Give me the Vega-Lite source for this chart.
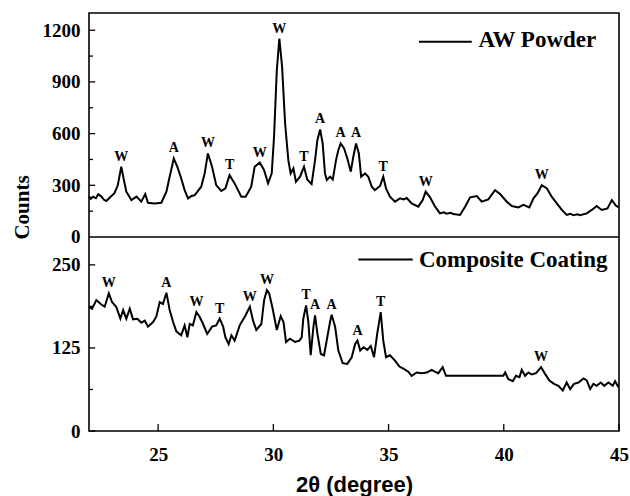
{
  "$schema": "https://vega.github.io/schema/vega-lite/v6.json",
  "autosize": "none",
  "width": 530,
  "height": 418,
  "padding": {"left": 89, "top": 13, "right": 11, "bottom": 65},
  "background": "white",
  "config": {
    "view": {"stroke": "black", "strokeWidth": 1.6},
    "axis": {"grid": false, "domain": false, "ticks": false, "labelColor": "black", "titleColor": "black", "labelFont": "Liberation Serif", "labelFontWeight": "bold", "labelFontSize": 19, "labelFlush": false, "labelOverlap": false, "format": "d"}
  },
  "datasets": {
    "aw": [
      {"angle": 22.0, "counts": 235}, {"angle": 22.08, "counts": 222}, {"angle": 22.17, "counts": 234}, {"angle": 22.3, "counts": 225}, {"angle": 22.4, "counts": 248},
      {"angle": 22.53, "counts": 236}, {"angle": 22.65, "counts": 216}, {"angle": 22.75, "counts": 209}, {"angle": 22.95, "counts": 235}, {"angle": 23.1, "counts": 253},
      {"angle": 23.25, "counts": 300}, {"angle": 23.4, "counts": 408}, {"angle": 23.5, "counts": 340}, {"angle": 23.62, "counts": 263}, {"angle": 23.84, "counts": 214},
      {"angle": 24.06, "counts": 234}, {"angle": 24.27, "counts": 205}, {"angle": 24.44, "counts": 249}, {"angle": 24.56, "counts": 199}, {"angle": 24.85, "counts": 195},
      {"angle": 25.14, "counts": 199}, {"angle": 25.36, "counts": 263}, {"angle": 25.5, "counts": 350}, {"angle": 25.68, "counts": 456}, {"angle": 25.83, "counts": 408},
      {"angle": 25.98, "counts": 350}, {"angle": 26.15, "counts": 272}, {"angle": 26.3, "counts": 224}, {"angle": 26.45, "counts": 238}, {"angle": 26.59, "counts": 243},
      {"angle": 26.87, "counts": 292}, {"angle": 27.02, "counts": 369}, {"angle": 27.16, "counts": 485}, {"angle": 27.34, "counts": 408}, {"angle": 27.52, "counts": 301},
      {"angle": 27.74, "counts": 267}, {"angle": 27.92, "counts": 282}, {"angle": 28.1, "counts": 359}, {"angle": 28.32, "counts": 311}, {"angle": 28.61, "counts": 234},
      {"angle": 28.8, "counts": 234}, {"angle": 29.04, "counts": 292}, {"angle": 29.19, "counts": 408}, {"angle": 29.41, "counts": 432}, {"angle": 29.6, "counts": 388},
      {"angle": 29.77, "counts": 311}, {"angle": 29.93, "counts": 369}, {"angle": 30.03, "counts": 582}, {"angle": 30.15, "counts": 968}, {"angle": 30.26, "counts": 1152},
      {"angle": 30.38, "counts": 987}, {"angle": 30.51, "counts": 659}, {"angle": 30.65, "counts": 446}, {"angle": 30.75, "counts": 369}, {"angle": 30.87, "counts": 398},
      {"angle": 30.98, "counts": 321}, {"angle": 31.16, "counts": 350}, {"angle": 31.33, "counts": 408}, {"angle": 31.47, "counts": 334}, {"angle": 31.66, "counts": 307},
      {"angle": 31.81, "counts": 446}, {"angle": 31.91, "counts": 562}, {"angle": 32.03, "counts": 624}, {"angle": 32.14, "counts": 543}, {"angle": 32.24, "counts": 369},
      {"angle": 32.32, "counts": 330}, {"angle": 32.46, "counts": 350}, {"angle": 32.58, "counts": 334}, {"angle": 32.72, "counts": 446}, {"angle": 32.82, "counts": 504},
      {"angle": 32.92, "counts": 543}, {"angle": 33.07, "counts": 514}, {"angle": 33.21, "counts": 456}, {"angle": 33.36, "counts": 379}, {"angle": 33.47, "counts": 466},
      {"angle": 33.59, "counts": 543}, {"angle": 33.71, "counts": 485}, {"angle": 33.81, "counts": 350}, {"angle": 33.98, "counts": 369}, {"angle": 34.12, "counts": 350},
      {"angle": 34.27, "counts": 292}, {"angle": 34.41, "counts": 272}, {"angle": 34.63, "counts": 296}, {"angle": 34.77, "counts": 350}, {"angle": 34.89, "counts": 282},
      {"angle": 35.06, "counts": 234}, {"angle": 35.28, "counts": 205}, {"angle": 35.5, "counts": 224}, {"angle": 35.65, "counts": 218}, {"angle": 35.79, "counts": 226}, {"angle": 36.0, "counts": 195},
      {"angle": 36.29, "counts": 176}, {"angle": 36.48, "counts": 214}, {"angle": 36.61, "counts": 263}, {"angle": 36.8, "counts": 230}, {"angle": 37.02, "counts": 176},
      {"angle": 37.23, "counts": 137}, {"angle": 37.4, "counts": 143}, {"angle": 37.52, "counts": 135}, {"angle": 37.7, "counts": 140}, {"angle": 37.81, "counts": 133}, {"angle": 38.1, "counts": 128}, {"angle": 38.32, "counts": 176},
      {"angle": 38.54, "counts": 230}, {"angle": 38.83, "counts": 238}, {"angle": 39.04, "counts": 205}, {"angle": 39.33, "counts": 218}, {"angle": 39.62, "counts": 272},
      {"angle": 39.84, "counts": 249}, {"angle": 40.13, "counts": 205}, {"angle": 40.35, "counts": 180}, {"angle": 40.63, "counts": 172}, {"angle": 40.85, "counts": 186},
      {"angle": 41.11, "counts": 172}, {"angle": 41.29, "counts": 224}, {"angle": 41.46, "counts": 253}, {"angle": 41.65, "counts": 301}, {"angle": 41.87, "counts": 282},
      {"angle": 42.08, "counts": 234}, {"angle": 42.3, "counts": 195}, {"angle": 42.52, "counts": 157}, {"angle": 42.73, "counts": 128}, {"angle": 42.9, "counts": 134}, {"angle": 43.02, "counts": 126},
      {"angle": 43.2, "counts": 132}, {"angle": 43.31, "counts": 126}, {"angle": 43.6, "counts": 137}, {"angle": 43.82, "counts": 157}, {"angle": 44.03, "counts": 180}, {"angle": 44.25, "counts": 157},
      {"angle": 44.5, "counts": 166}, {"angle": 44.69, "counts": 214}, {"angle": 44.88, "counts": 180}, {"angle": 45.0, "counts": 172}
    ],
    "cc": [
      {"angle": 22.0, "counts": 187}, {"angle": 22.13, "counts": 184}, {"angle": 22.32, "counts": 197}, {"angle": 22.51, "counts": 191}, {"angle": 22.68, "counts": 187},
      {"angle": 22.86, "counts": 207}, {"angle": 23.0, "counts": 194}, {"angle": 23.18, "counts": 187}, {"angle": 23.36, "counts": 169}, {"angle": 23.48, "counts": 182},
      {"angle": 23.62, "counts": 169}, {"angle": 23.77, "counts": 184}, {"angle": 23.91, "counts": 168}, {"angle": 24.1, "counts": 169}, {"angle": 24.27, "counts": 163},
      {"angle": 24.42, "counts": 166}, {"angle": 24.56, "counts": 157}, {"angle": 24.78, "counts": 164}, {"angle": 24.92, "counts": 172}, {"angle": 25.07, "counts": 194},
      {"angle": 25.21, "counts": 191}, {"angle": 25.36, "counts": 208}, {"angle": 25.5, "counts": 182}, {"angle": 25.65, "counts": 164}, {"angle": 25.79, "counts": 150},
      {"angle": 26.0, "counts": 144}, {"angle": 26.15, "counts": 159}, {"angle": 26.27, "counts": 141}, {"angle": 26.37, "counts": 161}, {"angle": 26.51, "counts": 159},
      {"angle": 26.66, "counts": 179}, {"angle": 26.8, "counts": 172}, {"angle": 26.95, "counts": 161}, {"angle": 27.13, "counts": 146}, {"angle": 27.34, "counts": 157},
      {"angle": 27.52, "counts": 159}, {"angle": 27.67, "counts": 169}, {"angle": 27.82, "counts": 157}, {"angle": 27.92, "counts": 141}, {"angle": 28.06, "counts": 131},
      {"angle": 28.18, "counts": 144}, {"angle": 28.32, "counts": 136}, {"angle": 28.54, "counts": 159}, {"angle": 28.76, "counts": 172}, {"angle": 28.98, "counts": 187},
      {"angle": 29.12, "counts": 166}, {"angle": 29.26, "counts": 152}, {"angle": 29.48, "counts": 161}, {"angle": 29.6, "counts": 197}, {"angle": 29.72, "counts": 212},
      {"angle": 29.82, "counts": 207}, {"angle": 29.97, "counts": 184}, {"angle": 30.15, "counts": 152}, {"angle": 30.32, "counts": 173}, {"angle": 30.44, "counts": 164},
      {"angle": 30.55, "counts": 134}, {"angle": 30.72, "counts": 139}, {"angle": 30.94, "counts": 134}, {"angle": 31.13, "counts": 136}, {"angle": 31.23, "counts": 141},
      {"angle": 31.3, "counts": 169}, {"angle": 31.42, "counts": 189}, {"angle": 31.52, "counts": 164}, {"angle": 31.62, "counts": 114}, {"angle": 31.74, "counts": 157},
      {"angle": 31.81, "counts": 174}, {"angle": 31.91, "counts": 147}, {"angle": 32.06, "counts": 116}, {"angle": 32.2, "counts": 114}, {"angle": 32.34, "counts": 141},
      {"angle": 32.46, "counts": 164}, {"angle": 32.53, "counts": 175}, {"angle": 32.68, "counts": 157}, {"angle": 32.82, "counts": 121}, {"angle": 33.01, "counts": 102},
      {"angle": 33.21, "counts": 101}, {"angle": 33.4, "counts": 111}, {"angle": 33.55, "counts": 131}, {"angle": 33.65, "counts": 136}, {"angle": 33.77, "counts": 121},
      {"angle": 33.91, "counts": 126}, {"angle": 34.08, "counts": 122}, {"angle": 34.23, "counts": 128}, {"angle": 34.37, "counts": 111}, {"angle": 34.51, "counts": 147},
      {"angle": 34.66, "counts": 179}, {"angle": 34.77, "counts": 136}, {"angle": 34.89, "counts": 111}, {"angle": 35.06, "counts": 114}, {"angle": 35.28, "counts": 106},
      {"angle": 35.47, "counts": 97}, {"angle": 35.64, "counts": 94}, {"angle": 35.86, "counts": 89}, {"angle": 36.0, "counts": 83}, {"angle": 36.22, "counts": 88},
      {"angle": 36.44, "counts": 87}, {"angle": 36.66, "counts": 88}, {"angle": 36.87, "counts": 92}, {"angle": 37.09, "counts": 88}, {"angle": 37.16, "counts": 87},
      {"angle": 37.35, "counts": 96}, {"angle": 37.49, "counts": 83}, {"angle": 39.98, "counts": 83}, {"angle": 40.06, "counts": 88}, {"angle": 40.2, "counts": 78},
      {"angle": 40.39, "counts": 75}, {"angle": 40.53, "counts": 83}, {"angle": 40.68, "counts": 81}, {"angle": 40.78, "counts": 92}, {"angle": 40.92, "counts": 83},
      {"angle": 41.07, "counts": 88}, {"angle": 41.21, "counts": 85}, {"angle": 41.4, "counts": 87}, {"angle": 41.62, "counts": 96}, {"angle": 41.79, "counts": 86},
      {"angle": 41.98, "counts": 76}, {"angle": 42.18, "counts": 71}, {"angle": 42.37, "counts": 68}, {"angle": 42.56, "counts": 61}, {"angle": 42.73, "counts": 73},
      {"angle": 42.88, "counts": 63}, {"angle": 43.05, "counts": 71}, {"angle": 43.24, "counts": 73}, {"angle": 43.46, "counts": 79}, {"angle": 43.6, "counts": 76},
      {"angle": 43.75, "counts": 63}, {"angle": 43.89, "counts": 71}, {"angle": 44.03, "counts": 68}, {"angle": 44.21, "counts": 73}, {"angle": 44.36, "counts": 68},
      {"angle": 44.54, "counts": 73}, {"angle": 44.73, "counts": 68}, {"angle": 44.83, "counts": 75}, {"angle": 44.98, "counts": 66}
    ],
    "aw_peaks": [
      {"angle": 23.4, "counts": 408, "phase": "W"}, {"angle": 25.68, "counts": 456, "phase": "A"}, {"angle": 27.16, "counts": 485, "phase": "W"},
      {"angle": 28.1, "counts": 359, "phase": "T"}, {"angle": 29.41, "counts": 432, "phase": "W"}, {"angle": 30.26, "counts": 1152, "phase": "W"},
      {"angle": 31.33, "counts": 408, "phase": "T"}, {"angle": 32.03, "counts": 624, "phase": "A"}, {"angle": 32.92, "counts": 543, "phase": "A"},
      {"angle": 33.59, "counts": 543, "phase": "A"}, {"angle": 34.77, "counts": 350, "phase": "T"}, {"angle": 36.61, "counts": 263, "phase": "W"},
      {"angle": 41.65, "counts": 301, "phase": "W"}
    ],
    "cc_peaks": [
      {"angle": 22.86, "counts": 207, "phase": "W"}, {"angle": 25.36, "counts": 208, "phase": "A"}, {"angle": 26.66, "counts": 179, "phase": "W"},
      {"angle": 27.67, "counts": 169, "phase": "T"}, {"angle": 28.98, "counts": 187, "phase": "W"}, {"angle": 29.72, "counts": 212, "phase": "W"},
      {"angle": 31.42, "counts": 189, "phase": "T"}, {"angle": 31.81, "counts": 174, "phase": "A"}, {"angle": 32.53, "counts": 175, "phase": "A"},
      {"angle": 33.65, "counts": 136, "phase": "A"}, {"angle": 34.66, "counts": 179, "phase": "T"}, {"angle": 41.62, "counts": 96, "phase": "W"}
    ],
    "aw_legend": [{"angle": 36.32, "angle2": 38.61, "counts": 1133, "textCounts": 1104, "textAngle": 38.9, "name": "AW Powder"}],
    "cc_legend": [{"angle": 33.69, "angle2": 36.05, "counts": 258, "textCounts": 247, "textAngle": 36.32, "name": "Composite Coating"}],
    "divider": [{"counts": 0}],
    "x_ticks": [{"angle": 25}, {"angle": 30}, {"angle": 35}, {"angle": 40}, {"angle": 45}],
    "aw_major_ticks": [{"counts": 300}, {"counts": 600}, {"counts": 900}, {"counts": 1200}],
    "aw_minor_ticks": [{"counts": 150}, {"counts": 450}, {"counts": 750}, {"counts": 1050}],
    "cc_major_ticks": [{"counts": 0}, {"counts": 125}, {"counts": 250}],
    "cc_minor_ticks": [{"counts": 62.5}, {"counts": 187.5}]
  },
  "layer": [
    {
      "layer": [
        {
          "data": {"name": "aw"},
          "mark": {"type": "line", "color": "black", "strokeWidth": 2},
          "encoding": {
            "x": {"field": "angle", "type": "quantitative", "scale": {"domain": [22, 45], "nice": false, "zero": false},
              "axis": {"orient": "bottom", "values": [25, 30, 35, 40, 45], "labelPadding": 14, "title": "2θ (degree)",
                "titleFont": "Liberation Sans", "titleFontWeight": "bold", "titleFontSize": 22, "titleY": 53, "titleBaseline": "middle"}},
            "y": {"field": "counts", "type": "quantitative", "scale": {"domain": [-1126, 1300], "nice": false, "zero": false},
              "axis": {"orient": "left", "values": [0, 300, 600, 900, 1200], "labelPadding": 9, "title": "Counts",
                "titleFont": "Liberation Serif", "titleFontWeight": "bold", "titleFontSize": 21, "titleAngle": -90, "titleX": -67, "titleY": 194,
                "titleAlign": "center", "titleBaseline": "middle"}}
          }
        },
        {
          "data": {"name": "aw_peaks"},
          "mark": {"type": "text", "font": "Liberation Serif", "fontWeight": "bold", "fontSize": 14, "baseline": "bottom", "dy": -3, "color": "black"},
          "encoding": {
            "x": {"field": "angle", "type": "quantitative", "scale": {"domain": [22, 45]}},
            "y": {"field": "counts", "type": "quantitative", "scale": {"domain": [-1126, 1300]}},
            "text": {"field": "phase"}
          }
        },
        {
          "data": {"name": "aw_legend"},
          "mark": {"type": "rule", "color": "black", "strokeWidth": 2},
          "encoding": {
            "x": {"field": "angle", "type": "quantitative", "scale": {"domain": [22, 45]}},
            "x2": {"field": "angle2"},
            "y": {"field": "counts", "type": "quantitative", "scale": {"domain": [-1126, 1300]}}
          }
        },
        {
          "data": {"name": "aw_legend"},
          "mark": {"type": "text", "font": "Liberation Serif", "fontWeight": "bold", "fontSize": 23, "align": "left", "baseline": "alphabetic", "color": "black"},
          "encoding": {
            "x": {"field": "textAngle", "type": "quantitative", "scale": {"domain": [22, 45]}},
            "y": {"field": "textCounts", "type": "quantitative", "scale": {"domain": [-1126, 1300]}},
            "text": {"field": "name"}
          }
        },
        {
          "data": {"name": "divider"},
          "mark": {"type": "rule", "color": "black", "strokeWidth": 1.6},
          "encoding": {
            "y": {"field": "counts", "type": "quantitative", "scale": {"domain": [-1126, 1300]}}
          }
        },
        {
          "data": {"name": "aw_major_ticks"},
          "mark": {"type": "rule", "color": "black", "strokeWidth": 1.3},
          "encoding": {
            "x": {"datum": 22, "type": "quantitative", "scale": {"domain": [22, 45]}},
            "x2": {"datum": 22.27},
            "y": {"field": "counts", "type": "quantitative", "scale": {"domain": [-1126, 1300]}}
          }
        },
        {
          "data": {"name": "aw_minor_ticks"},
          "mark": {"type": "rule", "color": "black", "strokeWidth": 1.3},
          "encoding": {
            "x": {"datum": 22, "type": "quantitative", "scale": {"domain": [22, 45]}},
            "x2": {"datum": 22.17},
            "y": {"field": "counts", "type": "quantitative", "scale": {"domain": [-1126, 1300]}}
          }
        }
      ]
    },
    {
      "layer": [
        {
          "data": {"name": "cc"},
          "mark": {"type": "line", "color": "black", "strokeWidth": 2},
          "encoding": {
            "x": {"field": "angle", "type": "quantitative", "scale": {"domain": [22, 45]}, "axis": null},
            "y": {"field": "counts", "type": "quantitative", "scale": {"domain": [0, 629], "nice": false, "zero": false},
              "axis": {"orient": "left", "values": [0, 125, 250], "labelPadding": 9, "title": null}}
          }
        },
        {
          "data": {"name": "cc_peaks"},
          "mark": {"type": "text", "font": "Liberation Serif", "fontWeight": "bold", "fontSize": 14, "baseline": "bottom", "dy": -3, "color": "black"},
          "encoding": {
            "x": {"field": "angle", "type": "quantitative", "scale": {"domain": [22, 45]}, "axis": null},
            "y": {"field": "counts", "type": "quantitative", "scale": {"domain": [0, 629]}},
            "text": {"field": "phase"}
          }
        },
        {
          "data": {"name": "cc_legend"},
          "mark": {"type": "rule", "color": "black", "strokeWidth": 2},
          "encoding": {
            "x": {"field": "angle", "type": "quantitative", "scale": {"domain": [22, 45]}, "axis": null},
            "x2": {"field": "angle2"},
            "y": {"field": "counts", "type": "quantitative", "scale": {"domain": [0, 629]}}
          }
        },
        {
          "data": {"name": "cc_legend"},
          "mark": {"type": "text", "font": "Liberation Serif", "fontWeight": "bold", "fontSize": 23, "align": "left", "baseline": "alphabetic", "color": "black"},
          "encoding": {
            "x": {"field": "textAngle", "type": "quantitative", "scale": {"domain": [22, 45]}, "axis": null},
            "y": {"field": "textCounts", "type": "quantitative", "scale": {"domain": [0, 629]}},
            "text": {"field": "name"}
          }
        },
        {
          "data": {"name": "x_ticks"},
          "mark": {"type": "rule", "color": "black", "strokeWidth": 1.3},
          "encoding": {
            "x": {"field": "angle", "type": "quantitative", "scale": {"domain": [22, 45]}, "axis": null},
            "y": {"datum": 0, "type": "quantitative", "scale": {"domain": [0, 629]}},
            "y2": {"datum": 10.5}
          }
        },
        {
          "data": {"name": "cc_major_ticks"},
          "mark": {"type": "rule", "color": "black", "strokeWidth": 1.3},
          "encoding": {
            "x": {"datum": 22, "type": "quantitative", "scale": {"domain": [22, 45]}, "axis": null},
            "x2": {"datum": 22.27},
            "y": {"field": "counts", "type": "quantitative", "scale": {"domain": [0, 629]}}
          }
        },
        {
          "data": {"name": "cc_minor_ticks"},
          "mark": {"type": "rule", "color": "black", "strokeWidth": 1.3},
          "encoding": {
            "x": {"datum": 22, "type": "quantitative", "scale": {"domain": [22, 45]}, "axis": null},
            "x2": {"datum": 22.17},
            "y": {"field": "counts", "type": "quantitative", "scale": {"domain": [0, 629]}}
          }
        }
      ]
    }
  ],
  "resolve": {"scale": {"y": "independent"}, "axis": {"x": "independent", "y": "independent"}}
}
